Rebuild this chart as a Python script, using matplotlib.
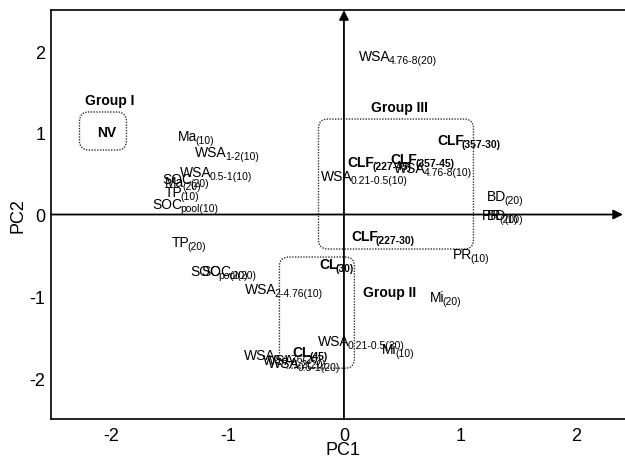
import matplotlib
matplotlib.use("Agg")
import matplotlib.pyplot as plt
from matplotlib.patches import FancyBboxPatch

plt.rcParams["font.family"] = ["Liberation Sans", "DejaVu Sans"]
plt.rcParams["axes.unicode_minus"] = False

# loadings / scores (left edge of each label)
names = ["WSA", "Ma", "WSA", "WSA", "SOC", "Ma", "TP", "SOC",
         "TP", "SOC", "SOC", "WSA", "CL", "Mi", "WSA", "Mi",
         "CL", "WSA", "WSA", "WSA", "CLF", "CLF", "CLF", "WSA",
         "WSA", "CLF", "PR", "BD", "PR", "BD", "NV"]
subs = ["4.76-8(20)", "(10)", "1-2(10)", "0.5-1(10)", "(20)", "(20)", "(10)", "pool(10)",
        "(20)", "pool(20)", "(20)", "2-4.76(10)", "(30)", "(20)", "0.21-0.5(20)", "(10)",
        "(45)", "2-4.76(20)", "1-2(20)", "0.5-1(20)", "(357-30)", "(227-45)", "(357-45)", "4.76-8(10)",
        "0.21-0.5(10)", "(227-30)", "(10)", "(20)", "(20)", "(10)", ""]
pc1 = [0.13, -1.43, -1.28, -1.41, -1.56, -1.54, -1.54, -1.65,
       -1.48, -1.32, -1.23, -0.85, -0.21, 0.74, -0.22, 0.33,
       -0.44, -0.86, -0.70, -0.65, 0.80, 0.03, 0.40, 0.43,
       -0.20, 0.06, 0.94, 1.23, 1.19, 1.23, -2.12]
pc2 = [1.94, 0.96, 0.77, 0.52, 0.43, 0.40, 0.27, 0.13,
       -0.34, -0.69, -0.69, -0.91, -0.61, -1.01, -1.55, -1.64,
       -1.68, -1.72, -1.78, -1.82, 0.91, 0.64, 0.68, 0.57,
       0.47, -0.26, -0.48, 0.23, 0.00, 0.00, 1.01]
bold = [False, False, False, False, False, False, False, False,
        False, False, False, False, True, False, False, False,
        True, False, False, False, True, True, True, False,
        False, True, False, False, False, False, True]

groups = ["Group I", "Group II", "Group III"]
group_x = [-2.23, 0.16, 0.23]
group_y = [1.40, -0.95, 1.32]
box_x0 = [-2.275, -0.555, -0.219]
box_x1 = [-1.871, 0.090, 1.114]
box_y0 = [0.789, -1.88, -0.422]
box_y1 = [1.254, -0.52, 1.168]

fig = plt.figure(figsize=(6.25, 4.6), dpi=100)
ax = fig.add_axes([51 / 625, 0.0872, 5.02 * 116.25 / 625, 5 * 81.75 / 460])
ax.set_xlim(-2.52, 2.5)
ax.set_ylim(-2.5, 2.5)
ax.set_xticks([-2, -1, 0, 1, 2])
ax.set_yticks([-2, -1, 0, 1, 2])
ax.tick_params(length=0, labelsize=13, pad=6)
ax.tick_params(axis="y", pad=4)
for s in ax.spines.values():
    s.set_linewidth(1.2)
ax.set_xlabel("PC1", fontsize=13, labelpad=-2)
ax.set_ylabel("PC2", fontsize=13, labelpad=2)

# axis arrows
arr = dict(arrowstyle="-|>", lw=1.3, color="black", mutation_scale=14,
           shrinkA=0, shrinkB=0)
ax.annotate("", xy=(0, 2.5), xytext=(0, -2.5), arrowprops=arr)
ax.annotate("", xy=(2.40, 0), xytext=(-2.52, 0), arrowprops=arr)

# dotted group boxes
for i in range(len(groups)):
    box = FancyBboxPatch((box_x0[i], box_y0[i]), box_x1[i] - box_x0[i],
                         box_y1[i] - box_y0[i],
                         boxstyle="round,pad=0,rounding_size=0.08",
                         mutation_aspect=1.42, fill=False, ec="#333333",
                         lw=1.0, ls=(0, (1, 1)))
    ax.add_patch(box)
    ax.text(group_x[i], group_y[i], groups[i], fontsize=10, fontweight="bold",
            ha="left", va="center")

renderer = fig.canvas.get_renderer()
for i in range(len(names)):
    w = "bold" if bold[i] else "normal"
    t = ax.text(pc1[i], pc2[i], names[i], fontsize=10, fontweight=w,
                ha="left", va="center")
    if subs[i]:
        bb = t.get_window_extent(renderer=renderer)
        ax.annotate(subs[i], xy=(pc1[i], pc2[i]), xytext=(bb.width - 2, -4),
                    textcoords="offset pixels", fontsize=7.5, fontweight=w,
                    ha="left", va="center")

fig.savefig("out.png", dpi=100)
